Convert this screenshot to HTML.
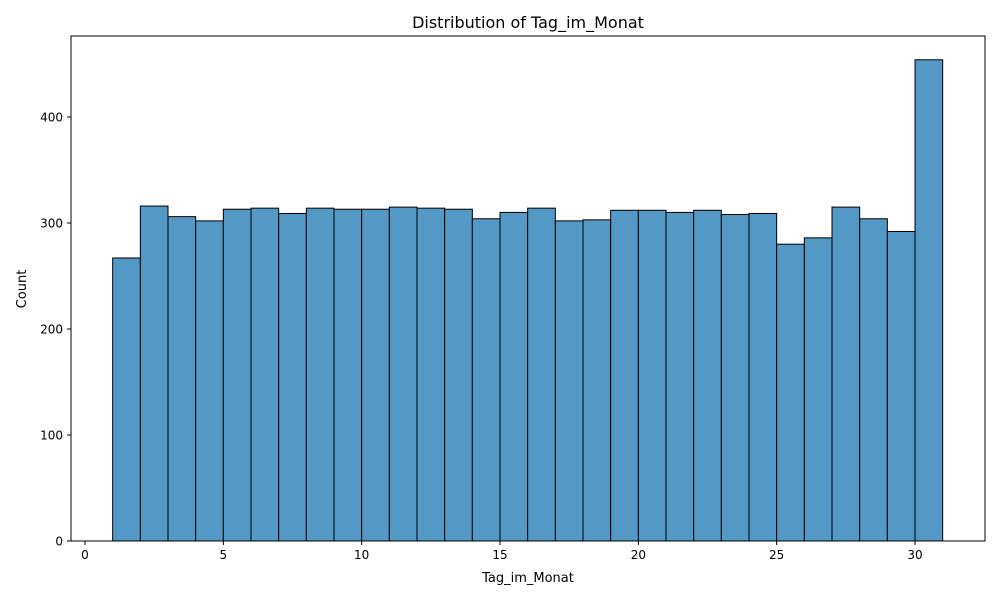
<!DOCTYPE html>
<html><head><meta charset="utf-8"><style>
body{margin:0;background:#fff;font-family:"Liberation Sans","DejaVu Sans",sans-serif}
text{font-family:"DejaVu Sans","Liberation Sans",sans-serif}
</style></head><body>
<svg id="chart" width="1000" height="600">
<rect width="1000" height="600" fill="#fff"/>
<g id="bars"></g>
<g id="xt"></g><g id="yt"></g>
<rect x="71" y="36" width="914" height="505" fill="none" stroke="#000" stroke-width="1"/>
<text x="528" y="28" text-anchor="middle" font-size="16">Distribution of Tag_im_Monat</text>
<text x="528" y="582" text-anchor="middle" font-size="13">Tag_im_Monat</text>
<text x="26" y="289" text-anchor="middle" font-size="13" transform="rotate(-90 26 289)">Count</text>
</svg>
<script>
const binStarts=[1,2,3,4,5,6,7,8,9,10,11,12,13,14,15,16,17,18,19,20,21,22,23,24,25,26,27,28,29,30];
const counts=[267,316,306,302,313,314,309,314,313,313,315,314,313,304,310,314,302,303,312,312,310,312,308,309,280,286,315,304,292,454];
const xTicks=[0,5,10,15,20,25,30];
const yTicks=[0,100,200,300,400];
const binWidth=1;
const X=v=>85+v*27.667;
const Y=v=>541-v*1.06;
const NS="http://www.w3.org/2000/svg";
const bars=document.getElementById('bars');
binStarts.forEach((b,i)=>{
 const r=document.createElementNS(NS,'rect');
 r.setAttribute('x',X(b));r.setAttribute('y',Y(counts[i]));
 r.setAttribute('width',X(b+binWidth)-X(b));r.setAttribute('height',Y(0)-Y(counts[i]));
 r.setAttribute('fill','#5498c6');r.setAttribute('stroke','#000');r.setAttribute('stroke-width','1');
 
 
 bars.appendChild(r);
});
const xt=document.getElementById('xt');
xTicks.forEach(t=>{
 const l=document.createElementNS(NS,'line');
 l.setAttribute('x1',X(t));l.setAttribute('x2',X(t));l.setAttribute('y1',541);l.setAttribute('y2',545);l.setAttribute('stroke','#000');
 
 
 xt.appendChild(l);
 const s=document.createElementNS(NS,'text');
 s.setAttribute('x',X(t));s.setAttribute('y',559);s.setAttribute('text-anchor','middle');s.setAttribute('font-size','12');
 s.textContent=t;
 
 
 xt.appendChild(s);
});
const yt=document.getElementById('yt');
yTicks.forEach(t=>{
 const l=document.createElementNS(NS,'line');
 l.setAttribute('x1',67);l.setAttribute('x2',71);l.setAttribute('y1',Y(t));l.setAttribute('y2',Y(t));l.setAttribute('stroke','#000');
 
 
 yt.appendChild(l);
 const s=document.createElementNS(NS,'text');
 s.setAttribute('x',63);s.setAttribute('y',Y(t)+4.5);s.setAttribute('text-anchor','end');s.setAttribute('font-size','12');
 s.textContent=t;
 
 
 yt.appendChild(s);
});
</script>
</body></html>
